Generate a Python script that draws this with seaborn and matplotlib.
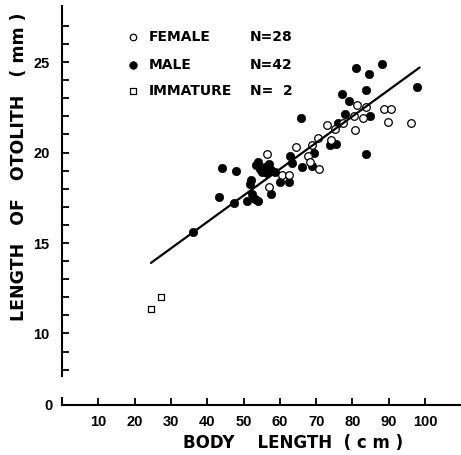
import matplotlib
matplotlib.use('Agg')
import matplotlib.pyplot as plt
import numpy as np
import pandas as pd
import seaborn as sns

# data
female_x = [56.6, 56.9, 60.6, 62.4, 64.5, 67.8, 68.3, 68.9, 70.6, 70.8, 73.0, 74.1,
            75.1, 77.5, 80.5, 80.7, 81.2, 82.8, 83.8, 88.7, 89.9, 90.7, 96.0]
female_y = [19.9, 18.1, 18.75, 18.75, 20.3, 19.8, 19.5, 20.4, 20.8, 19.1, 21.5, 20.7,
            21.3, 21.65, 22.0, 21.25, 22.65, 21.9, 22.5, 22.4, 21.7, 22.4, 21.65]

male_x = [36.0, 43.2, 44.0, 47.3, 47.8, 50.9, 52.0, 51.8, 52.4, 53.2, 54.1, 53.9,
          53.5, 54.4, 55.1, 55.9, 56.4, 56.9, 57.5, 57.5, 58.7, 60.1, 62.5, 62.8,
          63.4, 65.7, 66.2, 68.8, 69.3, 73.8, 75.4, 76.1, 77.0, 77.9, 79.1, 80.9,
          83.6, 83.7, 84.6, 84.9, 88.2, 97.9]
male_y = [15.6, 17.55, 19.15, 17.2, 19.0, 17.3, 18.5, 18.25, 17.7, 17.45, 17.3, 19.5,
          19.3, 19.1, 18.95, 19.2, 18.85, 19.35, 19.05, 17.7, 18.95, 18.4, 18.4, 19.8,
          19.45, 21.9, 19.2, 19.25, 19.95, 20.4, 20.5, 21.65, 23.25, 22.15, 22.85, 24.7,
          23.45, 19.9, 24.35, 22.0, 24.9, 23.65]

immature_x = [24.4, 27.2]
immature_y = [11.35, 12.0]

# regression line end points
line_x = [24.5, 98.5]
line_y = [13.9, 24.7]

x_ticks = [10, 20, 30, 40, 50, 60, 70, 80, 90, 100]
y_ticks = [10, 15, 20, 25]
legend_labels = ['FEMALE', 'MALE', 'IMMATURE']
legend_counts = ['N=28', 'N=42', 'N=  2']

sns.set_style('white', {'text.color': 'black', 'axes.labelcolor': 'black',
                        'xtick.color': 'black', 'ytick.color': 'black'})
plt.rcParams['font.family'] = ['DejaVu Sans']

W, H = 461, 455
fig = plt.figure(figsize=(W / 100, H / 100), dpi=100)

# main (upper) panel, y axis broken below ~7.6
ax = fig.add_axes([62 / W, 1 - 376 / H, 399 / W, 370 / H])
# lower strip carrying the x axis and the "0"
axb = fig.add_axes([62 / W, 1 - 405 / H, 399 / W, 7 / H])

df_f = pd.DataFrame({'x': female_x, 'y': female_y})
df_m = pd.DataFrame({'x': male_x, 'y': male_y})
df_i = pd.DataFrame({'x': immature_x, 'y': immature_y})

sns.scatterplot(data=df_m, x='x', y='y', marker='o', s=36, facecolor='black',
                edgecolor='black', linewidth=0.5, ax=ax, zorder=3)
sns.scatterplot(data=df_f, x='x', y='y', marker='o', s=30, facecolor='white',
                edgecolor='black', linewidth=0.9, ax=ax, zorder=3)
sns.scatterplot(data=df_i, x='x', y='y', marker='s', s=22, facecolor='white',
                edgecolor='black', linewidth=0.9, ax=ax, zorder=3)
sns.lineplot(x=line_x, y=line_y, color='black', linewidth=1.6, ax=ax, zorder=4)

tick_font = dict(family='Liberation Sans', weight='bold', size=10.5)

ax.set_xlim(0, 109.9)
ax.set_ylim(7.65, 28.1)
for s in ['top', 'right', 'bottom']:
    ax.spines[s].set_visible(False)
ax.spines['left'].set_linewidth(1.5)
ax.spines['left'].set_color('black')
ax.set_xticks([])
ax.set_yticks(y_ticks)
ax.set_yticks(np.arange(8, 28), minor=True)
ax.set_yticklabels([str(t) for t in y_ticks], fontdict=tick_font)
ax.tick_params(axis='y', which='both', direction='in', length=5, width=1.3,
               color='black', labelcolor='black', left=True, pad=9)
ax.set_xlabel('')
ax.set_ylabel('LENGTH   OF   OTOLITH   ( mm )', fontsize=12.5, fontweight='bold',
              color='black')
ax.yaxis.set_label_coords(-0.085, 0.566)

axb.set_xlim(0, 109.9)
axb.set_ylim(0, 1)
for s in ['top', 'right']:
    axb.spines[s].set_visible(False)
axb.spines['left'].set_linewidth(1.5)
axb.spines['bottom'].set_linewidth(1.5)
axb.spines['left'].set_color('black')
axb.spines['bottom'].set_color('black')
axb.set_facecolor('none')
axb.set_xticks(x_ticks)
axb.set_xticklabels([str(t) for t in x_ticks], fontdict=tick_font)
axb.set_yticks([0])
axb.set_yticklabels(['0'], fontdict=tick_font)
axb.tick_params(axis='x', direction='in', length=5, width=1.3, color='black',
                labelcolor='black', bottom=True, pad=7)
axb.tick_params(axis='y', length=0, left=True, pad=7, labelcolor='black')
axb.set_xlabel('BODY    LENGTH  ( c m )', fontsize=12, fontweight='bold',
               color='black')
axb.xaxis.set_label_coords(0.579, -4.2)

# legend block
rows = [0.916, 0.841, 0.770]
styles = [dict(marker='o', s=22, facecolor='white', edgecolor='black', linewidth=0.9),
          dict(marker='o', s=30, facecolor='black', edgecolor='black', linewidth=0.5),
          dict(marker='s', s=16, facecolor='white', edgecolor='black', linewidth=0.9)]
for yy, st, lab, cnt in zip(rows, styles, legend_labels, legend_counts):
    ax.scatter([0.178], [yy], transform=ax.transAxes, clip_on=False, **st)
    ax.text(0.218, yy, lab, transform=ax.transAxes, fontsize=10, fontweight='bold',
            va='center', ha='left', color='black')
    ax.text(0.471, yy, cnt, transform=ax.transAxes, fontsize=10, fontweight='bold',
            va='center', ha='left', color='black')

fig.savefig('out.png', dpi=100)
